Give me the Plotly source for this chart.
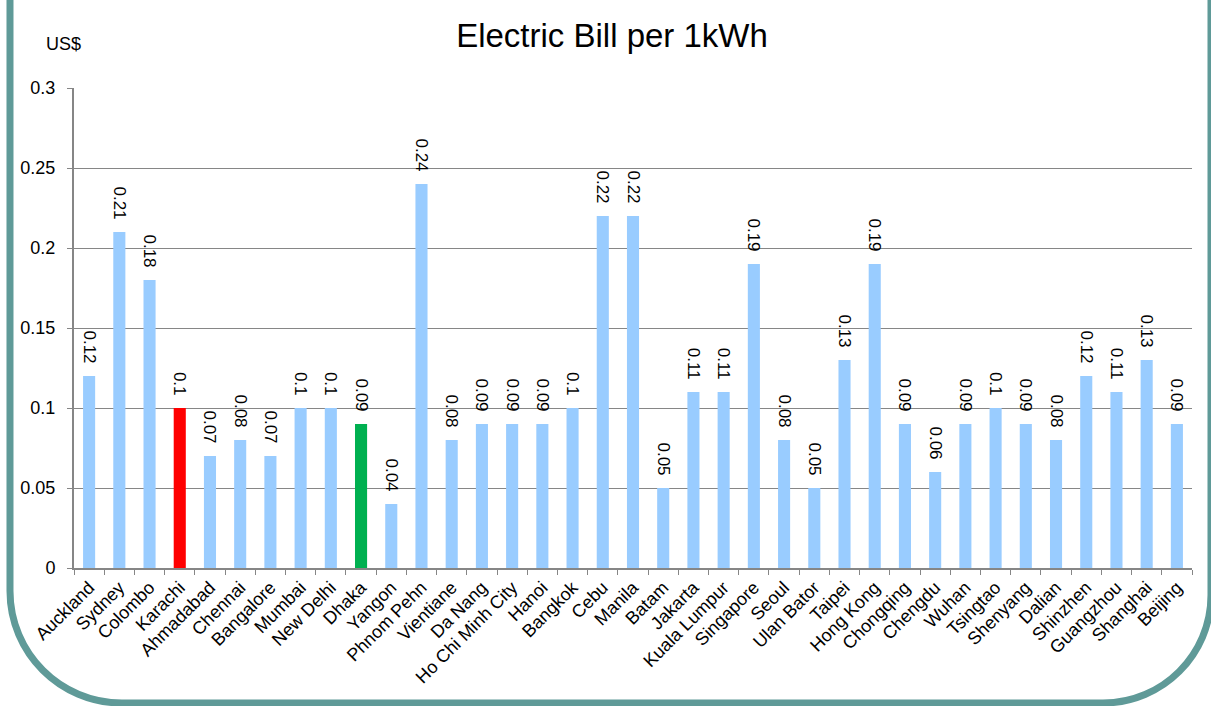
import plotly.graph_objects as go

cities = [
    "Auckland", "Sydney", "Colombo", "Karachi", "Ahmadabad", "Chennai", "Bangalore",
    "Mumbai", "New Delhi", "Dhaka", "Yangon", "Phnom Pehn", "Vientiane", "Da Nang",
    "Ho Chi Minh City", "Hanoi", "Bangkok", "Cebu", "Manila", "Batam", "Jakarta",
    "Kuala Lumpur", "Singapore", "Seoul", "Ulan Bator", "Taipei", "Hong Kong",
    "Chongqing", "Chengdu", "Wuhan", "Tsingtao", "Shenyang", "Dalian", "Shinzhen",
    "Guangzhou", "Shanghai", "Beijing",
]
price_usd = [
    0.12, 0.21, 0.18, 0.10, 0.07, 0.08, 0.07,
    0.10, 0.10, 0.09, 0.04, 0.24, 0.08, 0.09,
    0.09, 0.09, 0.10, 0.22, 0.22, 0.05, 0.11,
    0.11, 0.19, 0.08, 0.05, 0.13, 0.19,
    0.09, 0.06, 0.09, 0.10, 0.09, 0.08, 0.12,
    0.11, 0.13, 0.09,
]
highlight = {"Karachi": "#FF0000", "Dhaka": "#00B050"}
base_color = "#99CCFF"

colors = [highlight.get(c, base_color) for c in cities]
# trailing no-break spaces leave a small gap between each label and its bar
labels = [f"{v:g}\u00a0\u00a0" for v in price_usd]

FONT = "Arial, Liberation Sans, sans-serif"
W, H = 1211, 706
ML, MR, MT, MB = 74, 19, 88, 138
PW, PH = W - ML - MR, H - MT - MB


def px_to_paper(x, y):
    return (x - ML) / PW, (H - MB - y) / PH


def frame_path():
    # rounded-bottom border around the slide, built in pixels then mapped to paper
    lx, rx, by = 10, 1211, 703
    rl, rr = 112, 108
    k = 0.5523
    pts = [
        ("M", [(lx, -20)]),
        ("L", [(lx, by - rl)]),
        ("C", [(lx, by - rl + rl * k), (lx + rl - rl * k, by), (lx + rl, by)]),
        ("L", [(rx - rr, by)]),
        ("C", [(rx - rr + rr * k, by), (rx, by - rr + rr * k), (rx, by - rr)]),
        ("L", [(rx, -20)]),
    ]
    out = []
    for cmd, coords in pts:
        s = " ".join("{:.5f},{:.5f}".format(*px_to_paper(x, y)) for x, y in coords)
        out.append(f"{cmd} {s}")
    return " ".join(out)


fig = go.Figure(
    go.Bar(
        x=cities,
        y=price_usd,
        marker=dict(color=colors, line=dict(width=0)),
        text=labels,
        textposition="outside",
        textangle=90,
        textfont=dict(family=FONT, size=17, color="#000000"),
        cliponaxis=False,
        constraintext="none",
        hoverinfo="x+y",
    )
)

fig.update_layout(
    width=W,
    height=H,
    margin=dict(l=ML, r=MR, t=MT, b=MB),
    paper_bgcolor="white",
    plot_bgcolor="white",
    bargap=0.6,
    showlegend=False,
    font=dict(family=FONT, color="#000000"),
    title=dict(
        text="Electric Bill per 1kWh",
        x=612 / W,
        xanchor="center",
        y=1 - 35 / H,
        yanchor="middle",
        font=dict(family=FONT, size=33, color="#000000"),
    ),
    xaxis=dict(
        type="category",
        tickangle=-45,
        tickfont=dict(family=FONT, size=18),
        showline=True,
        linecolor="#868686",
        linewidth=2,
        ticks="outside",
        tickson="boundaries",
        ticklen=5,
        tickcolor="#868686",
        showgrid=False,
    ),
    yaxis=dict(
        range=[0, 0.3],
        dtick=0.05,
        tickfont=dict(family=FONT, size=18),
        showline=True,
        linecolor="#868686",
        linewidth=2,
        ticks="outside",
        ticklen=5,
        tickcolor="#868686",
        ticklabelstandoff=8,
        showgrid=True,
        gridcolor="#868686",
        gridwidth=1,
        zeroline=False,
    ),
    annotations=[
        dict(
            text="US$",
            xref="paper",
            yref="paper",
            x=(63 - ML) / PW,
            y=(H - MB - 44) / PH,
            xanchor="center",
            yanchor="middle",
            showarrow=False,
            font=dict(family=FONT, size=18),
        )
    ],
    shapes=[
        dict(
            type="path",
            xref="paper",
            yref="paper",
            path=frame_path(),
            line=dict(color="#5F9A98", width=7),
            fillcolor="rgba(0,0,0,0)",
            layer="above",
        )
    ],
)

fig.write_html("out.html")
